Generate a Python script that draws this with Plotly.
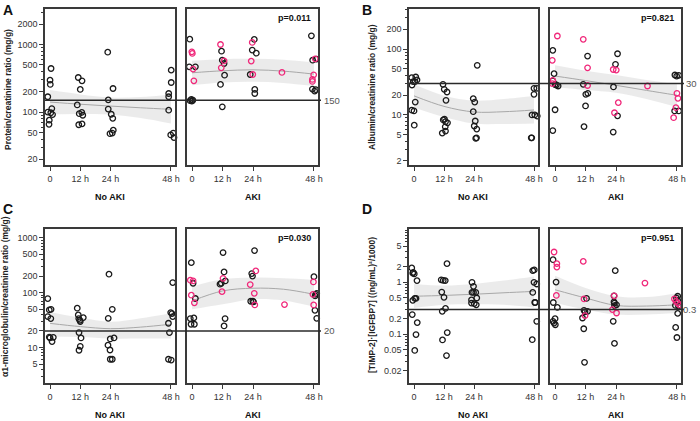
import math
import plotly.graph_objects as go

W, H = 700, 421

# ---------------- shared axis data ----------------
X_TICKS = [0, 12, 24, 48]
X_TICK_LABELS = ["0", "12 h", "24 h", "48 h"]
FIT_T = [0, 12, 24, 36, 48]

# ---------------- Panel A: protein/creatinine ----------------
A_TITLE = "Protein/creatinine ratio (mg/g)"
A_TICKS = [20, 50, 100, 200, 500, 1000, 2000]
A_REF = 150
A_P = "p=0.011"
A_no_x = [-0.9, 0.4, 0.0, 0.1, -0.9, 0.3, 0.7, 1.0, -0.3, -0.4,
          11.2, 12.7, 12.0, 10.8, 11.6, 12.6, 13.0, 11.4, 12.7,
          22.9, 25.0, 23.1, 23.1, 24.3, 24.9, 25.1, 23.8, 24.7,
          48.1, 48.1, 47.1, 47.1, 47.1, 47.9, 48.9, 49.2]
A_no_y = [169, 443, 298, 257, 100, 98, 113, 92, 76, 66,
          326, 291, 217, 128, 95, 99, 90, 65, 67,
          774, 224, 152, 111, 93, 81, 54, 48, 49,
          419, 275, 189, 169, 107, 46, 49, 42]
A_aki_bk_x = [-0.9, -1.1, 1.3, -0.3, 0.3, -0.8, -0.1,
              11.6, 11.9, 12.6, 12.8, 11.2, 11.9,
              24.5, 23.7, 25.3, 22.9, 24.7, 24.7,
              47.0, 47.5, 47.4, 48.3, 48.7, 49.0]
A_aki_bk_y = [1205, 469, 469, 155, 150, 148, 146,
              801, 589, 526, 353, 257, 120,
              1194, 830, 748, 361, 217, 189,
              1352, 589, 220, 205, 215, 610]
A_aki_pk_x = [-0.1, 0.1, 0.4, 0.7, 11.2, 12.6, 11.5, 23.7, 23.3, 23.9, 35.4, 47.9, 47.4, 47.4, 48.5]
A_aki_pk_y = [784, 740, 434, 291, 1005, 575, 454, 1077, 570, 361, 387, 357, 305, 285, 617]
A_no_fit = [141, 131, 123, 116, 110]
A_no_lo = [93, 94, 92, 82, 68]
A_no_hi = [212, 183, 165, 168, 183]
A_aki_fit = [383, 410, 424, 405, 366]
A_aki_lo = [251, 275, 281, 270, 243]
A_aki_hi = [576, 610, 617, 595, 546]

# ---------------- Panel B: albumin/creatinine ----------------
B_TITLE = "Albumin/creatinine ratio (mg/g)"
B_TICKS = [2, 5, 10, 20, 50, 100, 200]
B_REF = 30
B_P = "p=0.821"
B_no_x = [-0.9, 0.7, -0.3, 0.4, 1.2, -0.8, 0.5, -0.9, 0.0, 0.1,
          11.6, 12.1, 13.2, 12.8, 11.7, 12.2, 12.6, 13.4, 12.5, 12.6, 11.3,
          25.3, 23.7, 24.3, 23.7, 24.5, 24.1, 25.1, 25.0, 24.7,
          48.0, 49.1, 48.0, 47.2, 48.3, 49.3, 46.9, 47.1]
B_no_y = [36.9, 37.7, 32, 32, 34, 28.5, 15.7, 11.8, 11.5, 7.0,
          29.2, 24.5, 22.3, 16.7, 8.4, 8.6, 7.9, 7.6, 6.6, 5.7, 5.3,
          56.8, 17.7, 15.7, 11.2, 8.1, 6.8, 6.1, 4.5, 4.4,
          25.4, 25.4, 20.6, 10, 10, 9.6, 4.5, 4.5]
B_aki_bk_x = [-0.9, -0.4, -0.9, 0.0, 1.2, 0.5, 0.0, -0.9,
              12.8, 11.1, 12.1, 12.9, 12.0, 11.4,
              24.6, 23.8, 23.0, 24.6, 22.9,
              47.2, 47.9, 48.7, 47.1, 48.7]
B_aki_bk_y = [95.7, 42.4, 33, 29, 27.5, 28.5, 12, 5.8,
              78.5, 29.2, 20.6, 21.3, 13.7, 6.65,
              85, 58.7, 26.6, 9.7, 5.5,
              40.4, 39, 40, 11.5, 11.5]
B_aki_pk_x = [0.9, -1.1, -0.9, -1.1, 11.1, 12.8, 12.8, 22.9, 24.1, 24.9, 23.4, 36.4, 48.0, 48.4, 47.6, 46.7]
B_aki_pk_y = [158, 67.6, 33.5, 30, 141, 52, 28, 49, 48, 15.4, 10.8, 27.5, 21.3, 17.9, 12.9, 9.1]
B_no_fit = [19.5, 13.5, 11.1, 11.2, 11.9]
B_no_lo = [13, 9.3, 7.4, 7.3, 7.4]
B_no_hi = [29.2, 19.6, 16.5, 17.5, 19.4]
B_aki_fit = [39, 33.3, 28.2, 23.6, 19.9]
B_aki_lo = [26.6, 24, 21.8, 17.5, 13.2]
B_aki_hi = [56.7, 47, 40.4, 34, 29.2]

# ---------------- Panel C: a1-microglobulin/creatinine ----------------
C_TITLE = "α1-microglobulin/creatinine ratio (mg/g)"
C_TICKS = [5, 10, 20, 50, 100, 200, 500, 1000]
C_REF = 20
C_P = "p=0.030"
C_no_x = [-0.9, -0.3, 0.4, -0.9, 0.3, -0.3, 0.0, 1.3, 0.8,
          10.8, 11.2, 11.4, 11.8, 12.0, 13.2, 11.5, 12.3, 12.0, 11.5,
          23.4, 24.7, 23.1, 23.9, 25.4, 23.0, 23.8, 23.9, 24.7,
          48.7, 47.9, 48.4, 48.7, 47.0, 47.4, 47.0, 48.1]
C_no_y = [77.8, 48.3, 49.6, 36.6, 33.6, 15.5, 15.0, 15.3, 12.8,
          51.9, 39.2, 33.6, 31.3, 29.6, 35, 18.7, 14.9, 10.5, 8.9,
          216, 49.6, 34, 14.3, 14.9, 11, 9.0, 6.1, 6.1,
          152, 43.3, 41.4, 36.6, 27.6, 18.7, 6.1, 5.9]
C_aki_bk_x = [-0.3, 0.4, 1.3, -0.7, 0.7, -0.4, 0.9,
              12.2, 12.6, 13.1, 11.0, 11.5, 13.0, 12.6,
              24.6, 23.5, 23.8, 23.1, 23.9, 24.2,
              48.0, 48.7, 49.1, 48.5, 48.4, 49.1]
C_aki_bk_y = [351, 148, 78, 33.6, 34.6, 26.5, 26.5,
              535, 238, 163, 142, 148, 33.6, 24.7,
              582, 222, 200, 69.5, 70, 67.6,
              195, 93, 97, 87, 47.6, 34]
C_aki_pk_x = [-0.7, 0.4, -0.3, 0.9, 12.2, 11.8, 22.9, 25.1, 24.5, 24.7, 36.4, 47.8, 47.6, 47.9]
C_aki_pk_y = [168, 163, 89.5, 65, 182, 104, 140, 248, 97, 59.6, 60.4, 156, 93, 59.6]
C_no_fit = [27.5, 24, 22, 23.5, 26.5]
C_no_lo = [15.8, 15.5, 14.5, 14.5, 14.5]
C_no_hi = [44.5, 35, 29.3, 34, 42]
C_aki_fit = [70.5, 107, 120, 115, 93]
C_aki_lo = [49.6, 61, 75.7, 72, 55.6]
C_aki_hi = [128.6, 175, 187, 182, 170]

# ---------------- Panel D: [TIMP-2]*[IGFBP7] ----------------
D_TITLE = "[TIMP-2]·[IGFBP7] ((ng/mL)²/1000)"
D_TICKS = [0.02, 0.05, 0.1, 0.2, 0.5, 1, 2, 5]
D_REF = 0.3
D_P = "p=0.951"
D_no_x = [-0.9, -0.3, 0.1, -0.5, 1.2, -0.5, 0.3, 0.8, -0.7, 1.3, 0.8, 0.3,
          13.2, 10.9, 11.7, 12.5, 11.1, 12.0, 12.6, 11.3, 13.3, 11.4, 13.0,
          23.2, 23.8, 23.2, 23.8, 24.7, 25.1, 23.0, 23.0, 24.1, 24.9,
          47.5, 48.1, 48.0, 49.1, 47.5, 48.3, 48.5, 49.1, 47.3]
D_no_y = [1.89, 1.56, 1.45, 1.5, 1.08, 0.45, 0.49, 0.49, 0.24, 0.168, 0.099, 0.049,
          2.29, 1.12, 1.09, 1.08, 0.65, 0.515, 0.316, 0.277, 0.108, 0.078, 0.039,
          1.0, 0.84, 0.64, 0.64, 0.64, 0.5, 0.46, 0.4, 0.39, 0.37,
          1.68, 1.73, 1.0, 0.93, 0.64, 0.41, 0.41, 0.178, 0.079]
D_aki_bk_x = [-0.8, 0.4, -0.7, 0.9, 0.0, -0.8, -0.4, 0.1,
              12.4, 11.4, 12.8, 11.8, 10.8, 11.3, 11.6,
              23.7, 23.2, 23.4, 24.2, 23.4, 23.2, 22.9, 23.4,
              48.3, 47.8, 48.3, 47.4, 48.6, 48.3, 47.5, 48.0]
D_aki_bk_y = [2.73, 1.01, 0.41, 0.33, 0.2, 0.178, 0.165, 0.153,
              0.49, 0.29, 0.277, 0.27, 0.206, 0.128, 0.029,
              1.68, 0.42, 0.40, 0.37, 0.356, 0.55, 0.178, 0.067,
              0.54, 0.50, 0.45, 0.36, 0.35, 0.253, 0.136, 0.087]
D_aki_pk_x = [-0.4, 0.7, 0.7, 0.5, 11.1, 11.4, 11.8, 23.3, 22.6, 24.2, 35.4, 47.0, 47.6, 48.3, 49.0]
D_aki_pk_y = [3.83, 2.29, 1.97, 0.56, 2.53, 0.48, 0.229, 0.55, 0.30, 0.257, 0.97, 0.48, 0.43, 0.40, 0.37]
D_no_fit = [0.54, 0.56, 0.59, 0.63, 0.67]
D_no_lo = [0.32, 0.37, 0.38, 0.37, 0.33]
D_no_hi = [0.93, 0.87, 0.93, 1.08, 1.3]
D_aki_fit = [0.72, 0.5, 0.36, 0.35, 0.37]
D_aki_lo = [0.40, 0.30, 0.24, 0.24, 0.257]
D_aki_hi = [1.34, 0.78, 0.54, 0.52, 0.62]

GROUP_NO = "No AKI"
GROUP_AKI = "AKI"

# ---------------- styling / layout geometry ----------------
FONT = "Arial, Liberation Sans, sans-serif"
BLACK = "#1a1a1a"
PINK = "#f0287a"
BAND = "rgba(215,215,215,0.5)"
FITLINE = "#a8a8a8"
BORDER = "#3a3a3a"
X_RANGE = [-2.0, 49.6]

# (left, right) px of each column pair, and (top, bottom) px of each row
COLS = {"left": [(45, 175), (187, 318)], "right": [(409, 538), (550, 681)]}
ROWS = {"top": (9, 165), "bottom": (229, 383)}

panels = [
    dict(letter="A", col="left", row="top", title=A_TITLE, ticks=A_TICKS, rng=[1.217, 3.528], ref=A_REF, p=A_P,
         no=(A_no_x, A_no_y), bk=(A_aki_bk_x, A_aki_bk_y), pk=(A_aki_pk_x, A_aki_pk_y),
         nofit=(A_no_fit, A_no_lo, A_no_hi), akifit=(A_aki_fit, A_aki_lo, A_aki_hi), tx=8, ty=90, lx=5),
    dict(letter="B", col="right", row="top", title=B_TITLE, ticks=B_TICKS, rng=[0.24, 2.609], ref=B_REF, p=B_P,
         no=(B_no_x, B_no_y), bk=(B_aki_bk_x, B_aki_bk_y), pk=(B_aki_pk_x, B_aki_pk_y),
         nofit=(B_no_fit, B_no_lo, B_no_hi), akifit=(B_aki_fit, B_aki_lo, B_aki_hi), tx=372, ty=87, lx=4),
    dict(letter="C", col="left", row="bottom", title=C_TITLE, ticks=C_TICKS, rng=[0.353, 3.158], ref=C_REF, p=C_P,
         no=(C_no_x, C_no_y), bk=(C_aki_bk_x, C_aki_bk_y), pk=(C_aki_pk_x, C_aki_pk_y),
         nofit=(C_no_fit, C_no_lo, C_no_hi), akifit=(C_aki_fit, C_aki_lo, C_aki_hi), tx=5, ty=297, lx=5),
    dict(letter="D", col="right", row="bottom", title=D_TITLE, ticks=D_TICKS, rng=[-1.936, 1.026], ref=D_REF, p=D_P,
         no=(D_no_x, D_no_y), bk=(D_aki_bk_x, D_aki_bk_y), pk=(D_aki_pk_x, D_aki_pk_y),
         nofit=(D_no_fit, D_no_lo, D_no_hi), akifit=(D_aki_fit, D_aki_lo, D_aki_hi), tx=372, ty=305, lx=1),
]


def px(x):
    return x / W


def py(y):
    return 1 - y / H


def minor_vals(rng, majors):
    out = []
    for e in range(math.floor(rng[0]) - 1, math.ceil(rng[1]) + 1):
        for k in range(1, 10):
            v = k * 10.0 ** e
            lv = math.log10(v)
            if rng[0] <= lv <= rng[1] and not any(abs(lv - math.log10(m)) < 1e-6 for m in majors):
                out.append(v)
    return out


fig = go.Figure()
layout = dict(width=W, height=H, margin=dict(l=0, r=0, t=0, b=0), paper_bgcolor="white",
              plot_bgcolor="white", showlegend=False, font=dict(family=FONT, color="#222"))
shapes, annotations = [], []

ax_i = 0
for P in panels:
    top, bot = ROWS[P["row"]]
    for j, (l, r) in enumerate(COLS[P["col"]]):
        ax_i += 1
        xa = "x" if ax_i == 1 else f"x{ax_i}"
        ya = "y" if ax_i == 1 else f"y{ax_i}"
        xkey = "xaxis" if ax_i == 1 else f"xaxis{ax_i}"
        ykey = "yaxis" if ax_i == 1 else f"yaxis{ax_i}"
        first = j == 0
        layout[xkey] = dict(domain=[px(l), px(r)], anchor=ya, range=X_RANGE, tickmode="array",
                            tickvals=X_TICKS, ticktext=X_TICK_LABELS, ticks="outside", ticklen=4,
                            tickwidth=1.2, tickcolor=BORDER, showline=True, mirror=True,
                            linecolor=BORDER, linewidth=1.5, showgrid=False, zeroline=False,
                            automargin=False,
                            tickfont=dict(size=9, color="#333", family=FONT))
        ydict = dict(domain=[py(bot), py(top)], anchor=xa, type="log", range=P["rng"],
                     showline=True, mirror=True, linecolor=BORDER, linewidth=1.5,
                     showgrid=False, zeroline=False, automargin=False)
        if first:
            ydict.update(tickmode="array", tickvals=P["ticks"], ticktext=[f"{t:g}" for t in P["ticks"]],
                         ticks="outside", ticklen=4, tickwidth=1.2, tickcolor=BORDER,
                         tickfont=dict(size=9, color="#333", family=FONT),
                         minor=dict(tickmode="array", tickvals=minor_vals(P["rng"], P["ticks"]),
                                    ticks="outside", ticklen=2, tickwidth=1, tickcolor=BORDER))
        else:
            ydict.update(showticklabels=False, ticks="")
        layout[ykey] = ydict

        fit, lo, hi = P["nofit"] if first else P["akifit"]
        fig.add_trace(go.Scatter(x=FIT_T, y=lo, xaxis=xa, yaxis=ya, mode="lines",
                                 line=dict(width=0, shape="spline"), hoverinfo="skip"))
        fig.add_trace(go.Scatter(x=FIT_T, y=hi, xaxis=xa, yaxis=ya, mode="lines", fill="tonexty",
                                 fillcolor=BAND, line=dict(width=0, shape="spline"), hoverinfo="skip"))
        fig.add_trace(go.Scatter(x=FIT_T, y=fit, xaxis=xa, yaxis=ya, mode="lines",
                                 line=dict(width=1, color=FITLINE, shape="spline"), hoverinfo="skip"))

        mk = dict(symbol="circle-open", size=5.5, line=dict(width=1.3))
        if first:
            xs, ys = P["no"]
            fig.add_trace(go.Scatter(x=xs, y=ys, xaxis=xa, yaxis=ya, mode="markers",
                                     marker=dict(color=BLACK, **mk), cliponaxis=False))
        else:
            xs, ys = P["bk"]
            fig.add_trace(go.Scatter(x=xs, y=ys, xaxis=xa, yaxis=ya, mode="markers",
                                     marker=dict(color=BLACK, **mk), cliponaxis=False))
            xs, ys = P["pk"]
            fig.add_trace(go.Scatter(x=xs, y=ys, xaxis=xa, yaxis=ya, mode="markers",
                                     marker=dict(color=PINK, **mk), cliponaxis=False))
            # p value
            annotations.append(dict(text=f"<b>{P['p']}</b>", xref="paper", yref="paper",
                                    x=px(r - 5), y=py(top + 9), xanchor="right", yanchor="middle",
                                    showarrow=False, font=dict(size=9, color="#111", family=FONT)))
        # group title
        annotations.append(dict(text=f"<b>{GROUP_NO if first else GROUP_AKI}</b>", xref="paper", yref="paper",
                                x=px((l + r) / 2), y=py(bot + 32), xanchor="center", yanchor="middle",
                                showarrow=False, font=dict(size=9, color="#111", family=FONT)))

    (l0, _), (_, r1) = COLS[P["col"]]
    yref0 = "y" if ax_i == 2 else f"y{ax_i - 1}"
    # reference line spanning both panels
    shapes.append(dict(type="line", xref="paper", yref=yref0, x0=px(l0), x1=px(r1 + 3),
                       y0=P["ref"], y1=P["ref"], line=dict(color="#2a2a2a", width=1.5)))
    annotations.append(dict(text=f"{P['ref']:g}", xref="paper", yref=yref0, x=px(r1 + P["lx"]),
                            y=math.log10(P["ref"]), xanchor="left", yanchor="middle", showarrow=False,
                            borderpad=0, font=dict(size=9.5, color="#555", family=FONT)))
    # panel letter
    annotations.append(dict(text=f"<b>{P['letter']}</b>", xref="paper", yref="paper",
                            x=px(1 if P["col"] == "left" else 360), y=py(top + 1 if P["row"] == "top" else top - 20),
                            xanchor="left", yanchor="middle", showarrow=False,
                            font=dict(size=14, color="#111", family=FONT)))
    # y axis title
    annotations.append(dict(text=f"<b>{P['title']}</b>", xref="paper", yref="paper",
                            x=px(P["tx"]), y=py(P["ty"]), textangle=-90, xanchor="center",
                            yanchor="middle", showarrow=False,
                            font=dict(size=8.5, color="#222", family=FONT)))

layout["shapes"] = shapes
layout["annotations"] = annotations
fig.update_layout(**layout)
fig.write_html("out.html", config={"displayModeBar": False},
               post_script="document.body.style.margin='0';document.body.style.padding='0';")
